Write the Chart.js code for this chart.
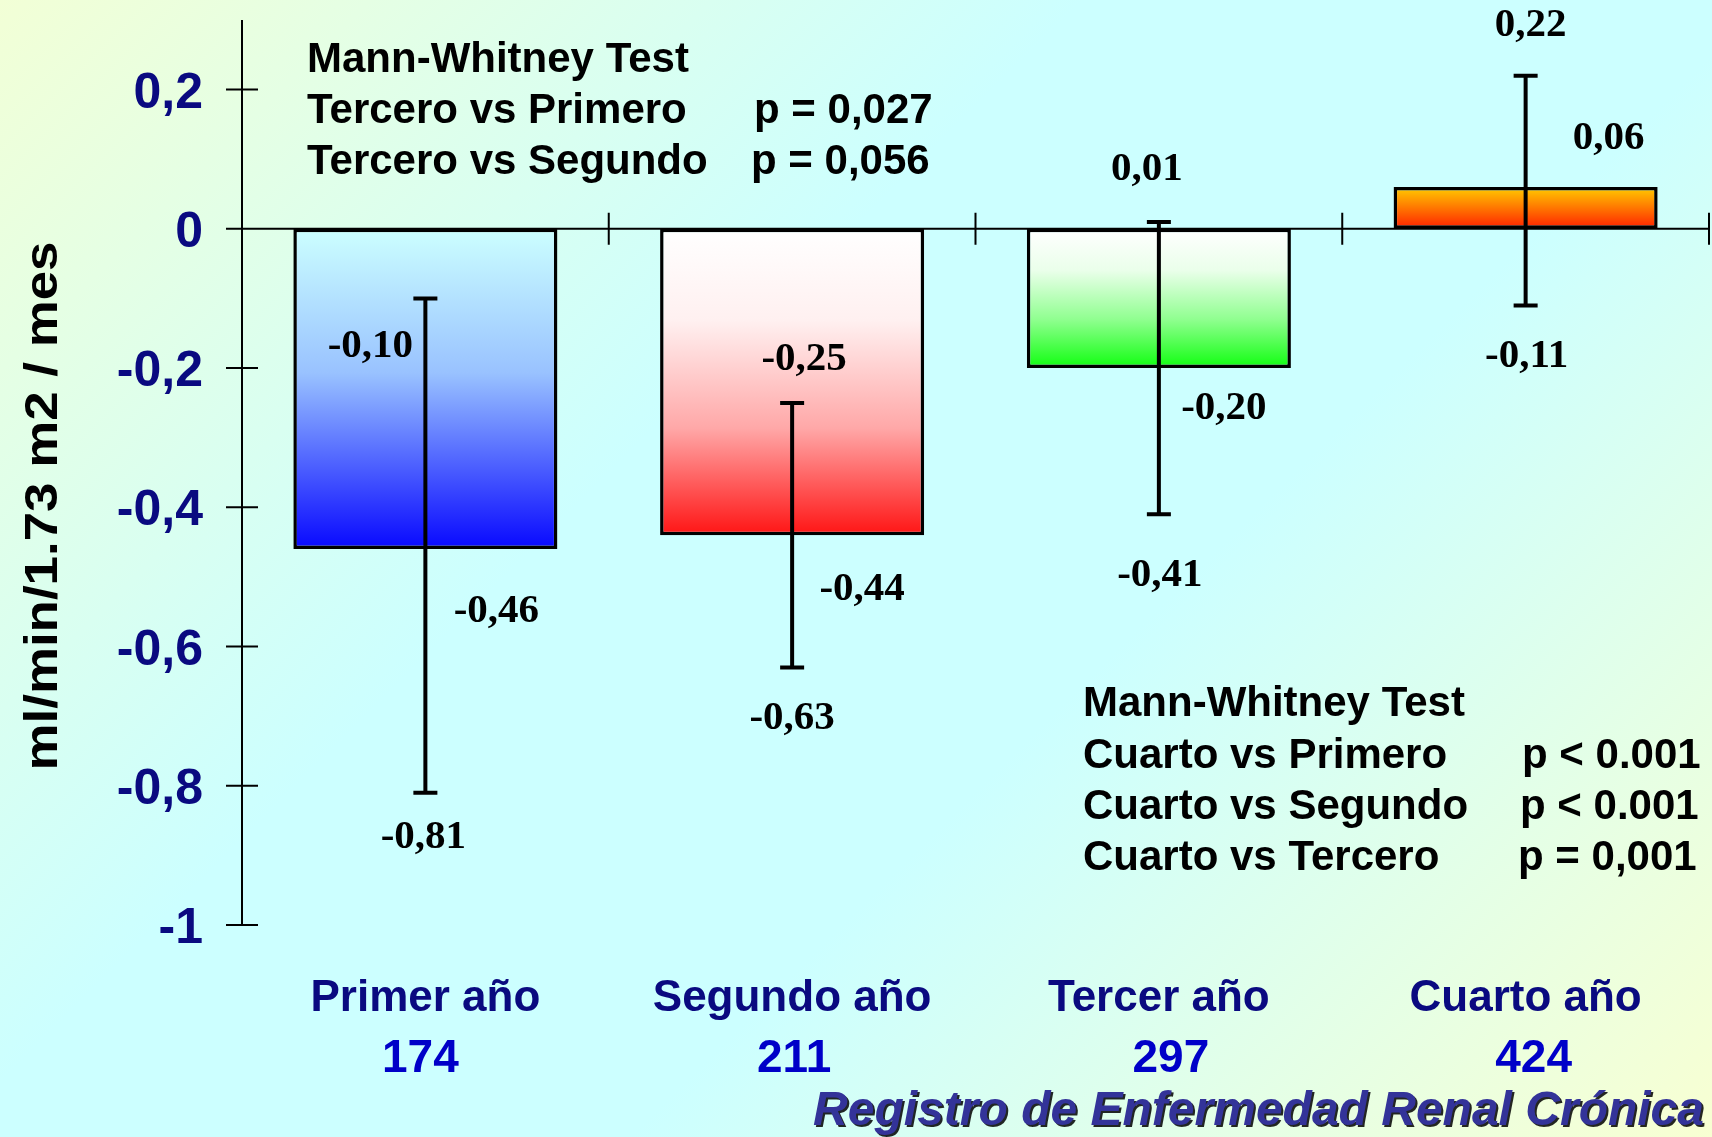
<!DOCTYPE html>
<html lang="es">
<head>
<meta charset="utf-8">
<title>Pendiente de filtrado glomerular por año</title>
<script src="https://cdn.jsdelivr.net/npm/chart.js@4.4.1/dist/chart.umd.min.js"></script>
<style>
  html, body { margin: 0; padding: 0; }
  body {
    width: 1712px;
    height: 1137px;
    overflow: hidden;
    background: linear-gradient(135deg, #f2ffd6 0%, #ccffff 38%, #ccffff 62%, #f8ffd2 100%);
  }
  canvas { display: block; }
</style>
</head>
<body>
<canvas id="slope-chart" width="1712" height="1137"></canvas>
<script>
const categories = ['Primer año', 'Segundo año', 'Tercer año', 'Cuarto año'];
const patientCounts = [174, 211, 297, 424];
const meanSlope = [-0.46, -0.44, -0.20, 0.06];
const ciLower = [-0.81, -0.63, -0.41, -0.11];
const ciUpper = [-0.10, -0.25, 0.01, 0.22];
const yTickValues = [0.2, 0, -0.2, -0.4, -0.6, -0.8, -1];
const yTickLabels = ['0,2', '0', '-0,2', '-0,4', '-0,6', '-0,8', '-1'];

const testTop = [
  ['Mann-Whitney Test', ''],
  ['Tercero vs Primero', 'p = 0,027'],
  ['Tercero vs Segundo', 'p = 0,056']
];
const testBottom = [
  ['Mann-Whitney Test', ''],
  ['Cuarto vs Primero', 'p < 0.001'],
  ['Cuarto vs Segundo', 'p < 0.001'],
  ['Cuarto vs Tercero', 'p = 0,001']
];

// gradient stops per bar, top to bottom on screen
const barFills = [
  [[0, '#ccffff'], [0.45, '#99c2ff'], [1, '#0808ff']],
  [[0, '#ffffff'], [0.3, '#fff0f0'], [0.65, '#ffa8a8'], [1, '#ff1414']],
  [[0, '#ffffff'], [0.3, '#eaffea'], [0.65, '#90ff90'], [1, '#10ff10']],
  [[0, '#ffcc00'], [1, '#ff2000']]
];

// label nudges in px relative to the value they describe
const labelNudge = {
  upper: [[-55, 48], [12, -43], [-12, -52], [5, -50]],
  mean:  [[71, 62], [70, 54], [65, 40], [83, -49]],
  lower: [[-2, 45], [0, 51], [1, 61], [1, 51]]
};
// the counts under each category sit a little off-centre
const countNudge = [-5, 2, 12, 8];

const fmt = v => v.toFixed(2).replace('.', ',');

const framePlugin = {
  id: 'frame',
  beforeDatasetsDraw(chart) {
    const { ctx, chartArea, scales: { x, y } } = chart;
    const y0 = y.getPixelForValue(0);
    ctx.save();
    ctx.strokeStyle = '#000';
    ctx.lineWidth = 2;
    ctx.beginPath();
    // vertical axis
    ctx.moveTo(chartArea.left, chartArea.top);
    ctx.lineTo(chartArea.left, y.getPixelForValue(-1));
    // horizontal axis at zero
    ctx.moveTo(chartArea.left - 16, y0);
    ctx.lineTo(chartArea.right + 1, y0);
    // y ticks crossing the axis
    yTickValues.forEach(v => {
      const py = y.getPixelForValue(v);
      ctx.moveTo(chartArea.left - 16, py);
      ctx.lineTo(chartArea.left + 16, py);
    });
    // x ticks at category boundaries
    categories.forEach((c, i) => {
      const px = i < categories.length - 1
        ? (x.getPixelForValue(i) + x.getPixelForValue(i + 1)) / 2
        : chartArea.right;
      ctx.moveTo(px, y0 - 16);
      ctx.lineTo(px, y0 + 16);
    });
    ctx.stroke();

    ctx.fillStyle = '#0a0a80';
    ctx.font = 'bold 50px "Liberation Sans", Arial, sans-serif';
    ctx.textAlign = 'right';
    ctx.textBaseline = 'alphabetic';
    yTickValues.forEach((v, i) => {
      ctx.fillText(yTickLabels[i], chartArea.left - 39, y.getPixelForValue(v) + 18);
    });
    ctx.restore();
  },
  afterDatasetsDraw(chart) {
    const { ctx, scales: { x, y } } = chart;
    ctx.save();
    ctx.strokeStyle = '#000';
    ctx.lineWidth = 4;
    ctx.beginPath();
    categories.forEach((c, i) => {
      const px = x.getPixelForValue(i);
      const top = y.getPixelForValue(ciUpper[i]);
      const bot = y.getPixelForValue(ciLower[i]);
      ctx.moveTo(px, top);
      ctx.lineTo(px, bot);
      ctx.moveTo(px - 12, top);
      ctx.lineTo(px + 12, top);
      ctx.moveTo(px - 12, bot);
      ctx.lineTo(px + 12, bot);
    });
    ctx.stroke();

    ctx.fillStyle = '#000';
    ctx.font = 'bold 41px "Liberation Serif", "Times New Roman", serif';
    ctx.textAlign = 'center';
    ctx.textBaseline = 'middle';
    const put = (vals, nudges) => vals.forEach((v, i) => {
      ctx.fillText(fmt(v), x.getPixelForValue(i) + nudges[i][0], y.getPixelForValue(v) + nudges[i][1]);
    });
    put(ciUpper, labelNudge.upper);
    put(meanSlope, labelNudge.mean);
    put(ciLower, labelNudge.lower);
    ctx.restore();
  },
  afterDraw(chart) {
    const { ctx, scales: { x } } = chart;
    ctx.save();

    // category names and patient counts
    ctx.textAlign = 'center';
    ctx.textBaseline = 'alphabetic';
    categories.forEach((c, i) => {
      const px = x.getPixelForValue(i);
      ctx.font = 'bold 44px "Liberation Sans", Arial, sans-serif';
      ctx.fillStyle = '#0a0a80';
      ctx.fillText(c, px, 1011);
      ctx.font = 'bold 46px "Liberation Sans", Arial, sans-serif';
      ctx.fillStyle = '#0000c8';
      ctx.fillText(String(patientCounts[i]), px + countNudge[i], 1072);
    });

    // y axis title, stretched a little along its length
    ctx.save();
    ctx.font = 'bold 46px "Liberation Sans", Arial, sans-serif';
    ctx.fillStyle = '#000';
    const title = 'ml/min/1.73 m2 / mes';
    ctx.translate(57, 506);
    ctx.rotate(-Math.PI / 2);
    ctx.scale(529 / ctx.measureText(title).width, 1);
    ctx.fillText(title, 0, 0);
    ctx.restore();

    // test results
    ctx.font = 'bold 42px "Liberation Sans", Arial, sans-serif';
    ctx.fillStyle = '#000';
    ctx.textAlign = 'left';
    const topRows = [72, 123, 174];
    const topP = [0, 754, 751];
    testTop.forEach((row, i) => {
      ctx.fillText(row[0], 307, topRows[i]);
      if (row[1]) ctx.fillText(row[1], topP[i], topRows[i]);
    });
    const botRows = [716, 768, 819, 870];
    const botP = [0, 1522, 1520, 1518];
    testBottom.forEach((row, i) => {
      ctx.fillText(row[0], 1083, botRows[i]);
      if (row[1]) ctx.fillText(row[1], botP[i], botRows[i]);
    });

    // registry footer
    ctx.font = 'italic bold 48px "Liberation Sans", Arial, sans-serif';
    ctx.textAlign = 'right';
    ctx.fillStyle = '#333399';
    ctx.shadowColor = 'rgba(0, 0, 0, 0.85)';
    ctx.shadowOffsetX = 2;
    ctx.shadowOffsetY = 2;
    ctx.fillText('Registro de Enfermedad Renal Crónica', 1704, 1125);
    ctx.restore();
  }
};

new Chart(document.getElementById('slope-chart'), {
  type: 'bar',
  data: {
    labels: categories,
    datasets: [{
      label: 'ml/min/1.73 m2 / mes',
      data: meanSlope,
      backgroundColor: (c) => {
        const chart = c.chart;
        if (!chart.chartArea || c.dataIndex === undefined) return 'transparent';
        const y = chart.scales.y;
        const a = y.getPixelForValue(0);
        const b = y.getPixelForValue(meanSlope[c.dataIndex]);
        const g = chart.ctx.createLinearGradient(0, Math.min(a, b), 0, Math.max(a, b));
        barFills[c.dataIndex].forEach(([o, col]) => g.addColorStop(o, col));
        return g;
      },
      borderColor: '#000',
      borderWidth: 3.5,
      borderSkipped: false,
      barPercentage: 0.72,
      categoryPercentage: 1
    }]
  },
  options: {
    responsive: false,
    devicePixelRatio: 1,
    animation: false,
    layout: {
      padding: { left: 242, top: 20, right: 3, bottom: 212 }
    },
    scales: {
      x: { display: false },
      y: { display: false, min: -1, max: 0.3 }
    },
    plugins: {
      legend: { display: false },
      tooltip: { enabled: false }
    }
  },
  plugins: [framePlugin]
});
</script>
</body>
</html>
